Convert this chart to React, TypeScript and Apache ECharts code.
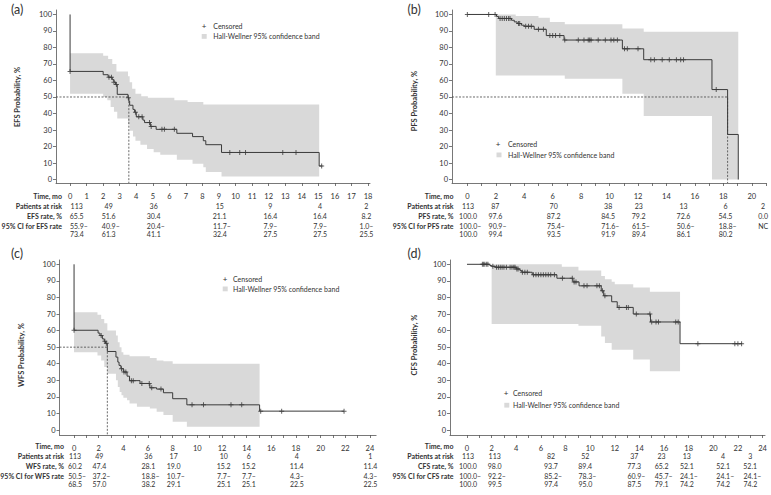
import React, { useEffect, useRef } from "react";
import * as echarts from "echarts";

const FONT = "Lato, 'Noto Sans', 'DejaVu Sans', sans-serif";
const TEXT = "#333333";
const AXIS = "#555555";
const BAND = "#d9d9d9";
const LINE = "#3a3a3a";

// ---------- shared ticks ----------
const yTicks = [0, 10, 20, 30, 40, 50, 60, 70, 80, 90, 100];
const efsXTicks = [0, 1, 2, 3, 4, 5, 6, 7, 8, 9, 10, 11, 12, 13, 14, 15, 16, 17, 18];
const pfsXTicks = [0, 1, 2, 3, 4, 5, 6, 7, 8, 9, 10, 11, 12, 13, 14, 15, 16, 17, 18, 19, 20, 21];
const pfsXLabels = [0, 2, 4, 6, 8, 10, 12, 14, 16, 18, 20];
const longXTicks = [0, 1, 2, 3, 4, 5, 6, 7, 8, 9, 10, 11, 12, 13, 14, 15, 16, 17, 18, 19, 20, 21, 22, 23, 24];
const longXLabels = [0, 2, 4, 6, 8, 10, 12, 14, 16, 18, 20, 22, 24];

// ---------- (a) EFS ----------
const efsCurve = [[0,100],[0,65.5],[2.0,63.5],[2.3,62],[2.55,60.5],[2.65,59],[2.75,57.5],[2.85,51.6],[3.5,49.5],[3.55,47.5],[3.6,45],[3.8,42.5],[3.9,40.8],[4.0,38],[4.4,36],[4.5,34.5],[4.85,32.2],[5.2,30.4],[6.45,28],[7.4,26],[8.05,23.5],[8.2,21.1],[9.15,16.4],[15.05,8.2],[15.25,8.2]];
const efsCensored = [[0,65.5],[2.35,62],[2.5,62],[2.65,59],[2.8,57.5],[3.52,49.5],[3.95,40.8],[4.15,38],[4.35,38],[4.8,34.5],[4.9,32.2],[5.55,30.4],[5.7,30.4],[6.3,30.4],[9.65,16.4],[10.25,16.4],[10.6,16.4],[12.85,16.4],[13.65,16.4],[15.2,8.2]];
const efsUpper = [[0,76.5],[2.0,75],[2.3,73],[2.55,70],[2.8,65.5],[3.5,62.5],[3.6,59],[3.75,55],[3.95,52],[4.3,50.5],[4.7,49.5],[6.3,48],[7.1,47],[8.05,45.5]];
const efsLower = [[0,52],[2.0,50],[2.25,48],[2.45,44],[2.65,41],[2.85,37],[3.5,33.5],[3.6,29.5],[3.8,26],[3.95,23.5],[4.25,21],[4.65,18.5],[5.05,16.5],[5.45,15],[6.45,12],[7.4,9.5],[8.05,7.5],[8.2,4.5],[9.15,1.8]];
const efsBandEnd = 15.05;
const efsMedian = 3.55;
const efsAtRisk = ["113", "49", "36", "15", "9", "4", "2"];
const efsRate = ["65.5", "51.6", "30.4", "21.1", "16.4", "16.4", "8.2"];
const efsCiLow = ["55.9", "40.9", "20.4", "11.7", "7.9", "7.9", "1.0"];
const efsCiHigh = ["73.4", "61.3", "41.1", "32.4", "27.5", "27.5", "25.5"];

// ---------- (b) PFS ----------
const pfsCurve = [[0,100],[2.05,98.8],[2.2,97.6],[3.1,96.5],[3.3,95.5],[3.5,94.5],[3.8,93.5],[4.0,92.8],[4.7,91],[5.55,87.2],[6.8,84.5],[10.9,79.2],[12.4,72.6],[17.2,54.5],[18.3,27.3],[19.05,0]];
const pfsCensored = [[0,100],[1.5,100],[1.95,100],[2.3,97.6],[2.45,97.6],[2.6,97.6],[2.75,97.6],[2.9,97.6],[3.0,97.6],[3.6,94.5],[3.68,94.5],[4.1,92.8],[4.3,92.8],[4.5,92.8],[5.0,91],[5.35,91],[5.8,87.2],[6.0,87.2],[6.2,87.2],[6.5,87.2],[6.85,84.5],[7.8,84.5],[8.2,84.5],[8.5,84.5],[8.6,84.5],[8.7,84.5],[9.2,84.5],[9.7,84.5],[10.1,84.5],[10.3,84.5],[10.55,84.5],[11.05,79.2],[11.25,79.2],[12.0,79.2],[12.9,72.6],[13.15,72.6],[13.7,72.6],[14.2,72.6],[14.7,72.6],[15.0,72.6],[15.2,72.6],[17.5,54.5]];
const pfsUpper = [[2.0,100],[3.4,99],[5.0,98],[5.8,95.5],[6.85,94],[10.9,91.5],[12.4,89.5]];
const pfsLower = [[2.0,63],[6.85,61],[10.9,52],[12.4,38.5],[17.2,0]];
const pfsBandEnd = 19.05;
const pfsMedian = 18.3;
const pfsAtRisk = ["113", "87", "70", "38", "23", "13", "6", "2"];
const pfsRate = ["100.0", "97.6", "87.2", "84.5", "79.2", "72.6", "54.5", "0.0"];
const pfsCiLow = ["100.0", "90.9", "75.4", "71.6", "61.5", "50.6", "18.8", "NC"];
const pfsCiHigh = ["100.0", "99.4", "93.5", "91.9", "89.4", "86.1", "80.2", ""];

// ---------- (c) WFS ----------
const wfsCurve = [[0,100],[0,60.2],[1.95,58.5],[2.1,57],[2.3,55],[2.45,53.5],[2.55,52.3],[2.7,47.4],[3.4,44],[3.55,41],[3.65,39],[3.8,37],[4.0,35],[4.3,32.5],[4.5,29.8],[5.35,28.1],[6.15,25.5],[6.7,24.7],[7.25,22.5],[8.0,18.9],[9.15,15.2],[15.05,11.4],[21.9,11.4]];
const wfsCensored = [[0,60.2],[2.2,57],[2.5,53.5],[2.62,52.3],[3.85,37],[4.05,35],[4.2,35],[4.65,29.8],[4.8,29.8],[5.5,28.1],[6.1,28.1],[6.3,25.5],[7.05,24.7],[9.57,15.2],[10.5,15.2],[12.73,15.2],[13.6,15.2],[15.14,11.4],[16.84,11.4],[21.9,11.4]];
const wfsUpper = [[0,71],[1.9,69.5],[2.2,67],[2.45,64.5],[2.7,60],[3.4,57],[3.55,53],[3.7,50],[3.85,47],[4.0,45.5],[4.5,44.5],[6.15,43.5],[6.7,42],[7.25,41.5],[8.0,40]];
const wfsLower = [[0,47],[1.9,45],[2.2,42],[2.45,38],[2.7,34],[3.4,30],[3.55,26],[3.7,23],[3.85,21],[4.0,19.5],[4.3,18],[4.5,16],[5.1,14],[6.15,13],[6.7,11],[7.25,9],[8.0,5],[9.15,2]];
const wfsBandEnd = 15.05;
const wfsMedian = 2.7;
const wfsAtRisk = ["113", "49", "36", "17", "10", "6", "4", "1"];
const wfsRate = ["60.2", "47.4", "28.1", "19.0", "15.2", "15.2", "11.4", "11.4"];
const wfsCiLow = ["50.5", "37.2", "18.8", "10.7", "7.7", "7.7", "4.3", "4.3"];
const wfsCiHigh = ["68.5", "57.0", "38.2", "29.1", "25.1", "25.1", "22.5", "22.5"];

// ---------- (d) CFS ----------
const cfsCurve = [[0,100],[1.85,99.3],[2.0,98.8],[2.3,98.2],[4.0,97.2],[4.3,96.2],[4.45,95.2],[5.3,93.7],[7.3,91.6],[8.6,89.4],[9.1,87],[10.9,84],[11.1,81],[11.75,77.4],[12.2,74],[13.5,70],[14.9,65.2],[17.3,52.1],[22.35,52.1]];
const cfsCensored = [[1.25,100],[1.35,100],[1.45,100],[1.6,100],[1.7,100],[2.1,98.8],[2.4,98.2],[2.55,98.2],[2.7,98.2],[2.85,98.2],[3.0,98.2],[3.2,98.2],[3.5,98.2],[3.65,98.2],[3.8,98.2],[3.9,98.2],[4.05,97.2],[4.15,97.2],[4.5,95.2],[4.7,95.2],[4.9,95.2],[5.4,93.7],[5.6,93.7],[5.8,93.7],[6.0,93.7],[6.2,93.7],[6.4,93.7],[6.6,93.7],[6.8,93.7],[7.1,93.7],[7.75,91.6],[8.55,91.6],[8.7,89.4],[8.85,89.4],[9.5,87],[9.75,87],[10.55,87],[10.75,87],[11.0,84],[11.2,81],[12.35,74],[12.95,74],[13.1,74],[13.75,70],[14.85,70],[15.0,65.2],[15.35,65.2],[15.55,65.2],[16.95,65.2],[17.15,65.2],[18.75,52.1],[21.75,52.1],[22.0,52.1],[22.3,52.1]];
const cfsUpper = [[2.0,100],[7.7,98.5],[9.05,96.2],[10.9,93],[11.2,91],[11.75,89.5],[12.0,88],[13.5,86],[14.85,83.5]];
const cfsLower = [[2.0,64],[9.05,63],[10.9,56.5],[11.2,52.5],[11.75,48.5],[13.5,42.5],[14.85,35.5]];
const cfsBandEnd = 17.3;
const cfsAtRisk = ["113", "113", "82", "52", "37", "23", "13", "4", "3"];
const cfsRate = ["100.0", "98.0", "93.7", "89.4", "77.3", "65.2", "52.1", "52.1", "52.1"];
const cfsCiLow = ["100.0", "92.2", "85.2", "78.3", "60.9", "45.7", "24.1", "24.1", "24.1"];
const cfsCiHigh = ["100.0", "99.5", "97.4", "95.0", "87.5", "79.1", "74.2", "74.2", "74.2"];

// ---------- layout ----------
type Panel = any;
const panels: Panel[] = [
  {
    name: "EFS", letter: "(a)", letterPos: [11, 9.5],
    grid: { left: 56, top: 10, width: 314, height: 173 },
    xMin: -0.85, xMax: 18.12, yMin: -2.1, yMax: 102.7,
    xTicks: efsXTicks, xLabels: efsXTicks,
    curve: efsCurve, censored: efsCensored, upper: efsUpper, lower: efsLower, bandEnd: efsBandEnd, median: efsMedian,
    yTitlePos: [17, 97],
    legend: { plus: [204, 25.5], textX: 213.3, sq: [201.7, 34, 5, 4.8], bandY: 36.3 },
    table: { labelX: 62, rows: [196, 206, 216, 226, 233.5], cols: [0.4, 2.33, 5.05, 9.04, 12.1, 15.1, 17.9],
      atRisk: efsAtRisk, rate: efsRate, lo: efsCiLow, hi: efsCiHigh },
  },
  {
    name: "PFS", letter: "(b)", letterPos: [407.5, 9.5],
    grid: { left: 452, top: 10, width: 314, height: 173 },
    xMin: -1.08, xMax: 21.0, yMin: -2.1, yMax: 102.7,
    xTicks: pfsXTicks, xLabels: pfsXLabels,
    curve: pfsCurve, censored: pfsCensored, upper: pfsUpper, lower: pfsLower, bandEnd: pfsBandEnd, median: pfsMedian,
    yTitlePos: [414, 101],
    legend: { plus: [498, 144], textX: 508, sq: [496.5, 152.5, 5, 4.8], bandY: 155 },
    table: { labelX: 453.5, rows: [196, 206, 216, 226, 233.5], cols: [0.05, 1.97, 6.07, 9.9, 12.05, 15.2, 18.15, 20.8],
      atRisk: pfsAtRisk, rate: pfsRate, lo: pfsCiLow, hi: pfsCiHigh },
  },
  {
    name: "WFS", letter: "(c)", letterPos: [11, 253],
    grid: { left: 59.5, top: 260, width: 316.6, height: 175 },
    xMin: -1.18, xMax: 24.5, yMin: -3.0, yMax: 102.6,
    xTicks: longXTicks, xLabels: longXLabels,
    curve: wfsCurve, censored: wfsCensored, upper: wfsUpper, lower: wfsLower, bandEnd: wfsBandEnd, median: wfsMedian,
    yTitlePos: [21, 355],
    legend: { plus: [225, 279], textX: 233, sq: [222.7, 286.5, 5, 4.8], bandY: 289 },
    table: { labelX: 64, rows: [446, 456, 466, 476, 483.5], cols: [0.08, 2.05, 6.03, 8.08, 12.14, 14.17, 18.06, 24.03],
      atRisk: wfsAtRisk, rate: wfsRate, lo: wfsCiLow, hi: wfsCiHigh },
  },
  {
    name: "CFS", letter: "(d)", letterPos: [407.5, 253],
    grid: { left: 450, top: 260, width: 315, height: 175 },
    xMin: -1.38, xMax: 24.2, yMin: -3.0, yMax: 102.6,
    xTicks: longXTicks, xLabels: longXLabels,
    curve: cfsCurve, censored: cfsCensored, upper: cfsUpper, lower: cfsLower, bandEnd: cfsBandEnd, median: null,
    yTitlePos: [414, 345],
    legend: { plus: [506, 393], textX: 513, sq: [504.3, 402.8, 5, 4.8], bandY: 405 },
    table: { labelX: 453.5, rows: [446, 456, 466, 476, 483.5], cols: [0.08, 2.25, 6.82, 9.6, 13.58, 15.8, 17.85, 20.8, 23.0],
      atRisk: cfsAtRisk, rate: cfsRate, lo: cfsCiLow, hi: cfsCiHigh },
  },
];

function stepPolygon(upper: number[][], lower: number[][], end: number) {
  const pts: number[][] = [];
  for (let i = 0; i < upper.length; i++) {
    const t1 = i + 1 < upper.length ? upper[i + 1][0] : end;
    pts.push([upper[i][0], upper[i][1]], [t1, upper[i][1]]);
  }
  for (let i = lower.length - 1; i >= 0; i--) {
    const t1 = i + 1 < lower.length ? lower[i + 1][0] : end;
    pts.push([t1, lower[i][1]], [lower[i][0], lower[i][1]]);
  }
  return pts;
}

const approxW = (s: string, fs: number) =>
  [...s].reduce((w, c) => w + (c === "." ? 0.26 : c === "–" ? 0.5 : 0.56) * fs, 0);

function txt(text: string, x: number, y: number, opts: any = {}) {
  const align = opts.align || "left";
  return {
    type: "text", x, y, silent: true,
    rotation: opts.rotation || 0,
    style: {
      text, x: 0, y: 0, fill: opts.color || TEXT,
      fontSize: opts.size || 7, fontFamily: FONT, fontWeight: opts.bold ? "bold" : "normal",
      align, textAlign: align, verticalAlign: "middle", textVerticalAlign: "middle",
    },
  };
}

const PLUS = "path://M2,0H3V2H5V3H3V5H2V3H0V2H2Z";

function buildOption() {
  const grid: any[] = [], xAxis: any[] = [], yAxis: any[] = [], series: any[] = [], graphic: any[] = [];
  panels.forEach((p, i) => {
    grid.push({ ...p.grid });
    xAxis.push({
      type: "value", gridIndex: i, min: p.xMin, max: p.xMax,
      axisLine: { show: true, onZero: false, lineStyle: { color: AXIS, width: 0.8 } },
      axisTick: { show: true, length: 3, customValues: p.xTicks, lineStyle: { color: AXIS, width: 0.8 } },
      axisLabel: { customValues: p.xLabels, margin: 9, fontSize: 7.5, color: TEXT, fontFamily: FONT },
      splitLine: { show: false },
    });
    yAxis.push({
      type: "value", gridIndex: i, min: p.yMin, max: p.yMax,
      axisLine: { show: true, onZero: false, lineStyle: { color: AXIS, width: 0.8 } },
      axisTick: { show: true, length: 3, customValues: yTicks, lineStyle: { color: AXIS, width: 0.8 } },
      axisLabel: { customValues: yTicks, margin: 4, fontSize: 7.5, color: TEXT, fontFamily: FONT },
      splitLine: { show: false },
    });
    const poly = stepPolygon(p.upper, p.lower, p.bandEnd);
    series.push({
      type: "custom", xAxisIndex: i, yAxisIndex: i, silent: true, z: 1,
      data: [[p.upper[0][0], p.upper[0][1]]],
      renderItem: (_params: any, api: any) => ({
        type: "polygon",
        shape: { points: poly.map((pt) => api.coord(pt)) },
        style: { fill: BAND, stroke: null },
      }),
    });
    if (p.median != null) {
      series.push({
        type: "line", xAxisIndex: i, yAxisIndex: i, silent: true, z: 2, symbol: "none",
        data: [[p.xMin, 50], [p.median, 50], [p.median, p.yMin]],
        lineStyle: { color: "#444", width: 0.8, type: [2, 1.5] },
      });
    }
    series.push({
      type: "line", step: "end", xAxisIndex: i, yAxisIndex: i, silent: true, z: 3, symbol: "none",
      data: p.curve, lineStyle: { color: LINE, width: 1 },
    });
    series.push({
      type: "scatter", xAxisIndex: i, yAxisIndex: i, silent: true, z: 4,
      symbol: PLUS, symbolSize: 5, data: p.censored, itemStyle: { color: LINE },
    });

    // panel letter & y title
    graphic.push(txt(p.letter, p.letterPos[0], p.letterPos[1], { size: 12.5 }));
    graphic.push(txt(`${p.name} Probability, %`, p.yTitlePos[0], p.yTitlePos[1], { bold: true, size: 7.5, align: "center", rotation: Math.PI / 2 }));

    // legend
    const L = p.legend;
    graphic.push(txt("+", L.plus[0], L.plus[1], { size: 8, align: "center" }));
    graphic.push(txt("Censored", L.textX, L.plus[1], { size: 7 }));
    graphic.push({ type: "rect", silent: true, shape: { x: L.sq[0], y: L.sq[1], width: L.sq[2], height: L.sq[3] }, style: { fill: BAND } });
    graphic.push(txt("Hall-Wellner 95% confidence band", L.textX, L.bandY, { size: 7 }));

    // table
    const T = p.table;
    const px = (m: number) => p.grid.left + ((m - p.xMin) / (p.xMax - p.xMin)) * p.grid.width;
    const labels = ["Time, mo", "Patients at risk", `${p.name} rate, %`, `95% CI for ${p.name} rate`];
    labels.forEach((lb, r) => graphic.push(txt(lb, T.labelX, T.rows[r], { bold: true, size: 7, align: "right" })));
    T.cols.forEach((m: number, c: number) => {
      const cx = px(m);
      graphic.push(txt(T.atRisk[c], cx, T.rows[1], { align: "center" }));
      graphic.push(txt(T.rate[c], cx, T.rows[2], { align: "center" }));
      const lo = T.lo[c], hi = T.hi[c];
      if (hi === "") {
        graphic.push(txt(lo, cx, T.rows[3], { align: "center" }));
      } else {
        const left = cx - approxW(hi, 7) / 2;
        graphic.push(txt(lo + "–", left, T.rows[3], { align: "left" }));
        graphic.push(txt(hi, left, T.rows[4], { align: "left" }));
      }
    });
  });
  return {
    animation: false,
    backgroundColor: "#ffffff",
    textStyle: { fontFamily: FONT },
    grid, xAxis, yAxis, series, graphic,
  };
}

export default function App() {
  const ref = useRef<HTMLDivElement>(null);
  useEffect(() => {
    if (!ref.current) return;
    const chart = echarts.init(ref.current, null, { renderer: "svg" });
    chart.setOption(buildOption() as any);
    return () => chart.dispose();
  }, []);
  return (
    <div
      ref={ref}
      style={{ position: "fixed", left: 0, top: 0, width: 771, height: 495, background: "#fff" }}
    />
  );
}
